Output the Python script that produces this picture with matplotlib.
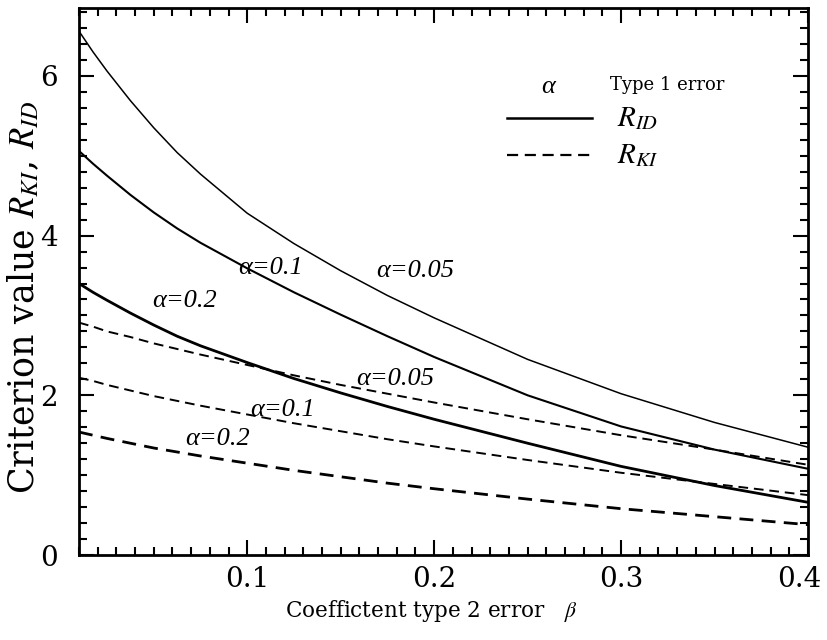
import matplotlib
matplotlib.use("Agg")
import matplotlib.pyplot as plt
from matplotlib.transforms import ScaledTranslation

plt.rcParams['mathtext.fontset'] = 'stix'
plt.rcParams['font.family'] = ['DejaVu Serif']

# beta values (Coefficient type 2 error)
beta = [0.01, 0.0175, 0.025, 0.0375, 0.05, 0.0625, 0.075, 0.1, 0.125, 0.15, 0.175,
        0.2, 0.25, 0.3, 0.35, 0.4]

# R_ID curves (solid)
rid_005 = [6.56, 6.30, 6.06, 5.69, 5.35, 5.04, 4.77, 4.28, 3.90, 3.56, 3.25,
           2.97, 2.45, 2.02, 1.66, 1.35]
rid_01 = [5.06, 4.90, 4.75, 4.51, 4.29, 4.09, 3.91, 3.59, 3.29, 3.01, 2.74,
          2.48, 2.00, 1.61, 1.32, 1.08]
rid_02 = [3.40, 3.29, 3.19, 3.03, 2.88, 2.74, 2.62, 2.41, 2.21, 2.03, 1.86,
          1.70, 1.40, 1.11, 0.87, 0.66]

# R_KI curves (dashed)
rki_005 = [2.91, 2.86, 2.80, 2.73, 2.65, 2.58, 2.51, 2.38, 2.25, 2.13, 2.02,
           1.91, 1.70, 1.50, 1.32, 1.13]
rki_01 = [2.22, 2.18, 2.13, 2.06, 1.99, 1.93, 1.87, 1.76, 1.65, 1.55, 1.45,
          1.36, 1.19, 1.03, 0.89, 0.75]
rki_02 = [1.54, 1.50, 1.46, 1.40, 1.34, 1.29, 1.24, 1.15, 1.06, 0.98, 0.90,
          0.83, 0.70, 0.58, 0.48, 0.38]

fig = plt.figure(figsize=(8.28, 6.40), dpi=100)
ax = fig.add_axes([0.0954, 0.1328, 0.8804, 0.8547])

dash = (0, (5, 3))
ax.plot(beta, rid_005, color='black', lw=1.1)
ax.plot(beta, rid_01, color='black', lw=1.5)
ax.plot(beta, rid_02, color='black', lw=2.0)
ax.plot(beta, rki_005, color='black', lw=1.4, linestyle=dash)
ax.plot(beta, rki_01, color='black', lw=1.4, linestyle=dash)
ax.plot(beta, rki_02, color='black', lw=2.0, linestyle=dash)

# curve labels
lab = dict(fontsize=19, fontstyle='italic', family='Liberation Serif', ha='center', va='center')
ax.text(0.19, 3.56, 'α=0.05', **lab)
ax.text(0.1127, 3.60, 'α=0.1', **lab)
ax.text(0.0667, 3.18, 'α=0.2', **lab)
ax.text(0.179, 2.20, 'α=0.05', **lab)
ax.text(0.119, 1.82, 'α=0.1', **lab)
ax.text(0.084, 1.45, 'α=0.2', **lab)

# legend drawn by hand
ax.text(0.643, 0.856, 'α', transform=ax.transAxes, fontsize=19, fontstyle='italic',
        family='Liberation Serif', ha='center', va='center')
ax.text(0.728, 0.859, 'Type 1 error', transform=ax.transAxes, fontsize=13,
        ha='left', va='center')
ax.plot([0.587, 0.704], [0.799, 0.799], transform=ax.transAxes, color='black', lw=1.8)
ax.plot([0.587, 0.704], [0.731, 0.731], transform=ax.transAxes, color='black', lw=1.6,
        linestyle=dash)
ax.text(0.738, 0.799, r'$R_{ID}$', transform=ax.transAxes, fontsize=21, ha='left', va='center')
ax.text(0.738, 0.731, r'$R_{KI}$', transform=ax.transAxes, fontsize=21, ha='left', va='center')

ax.set_xlim(0.01, 0.4)
ax.set_ylim(0, 6.85)
ax.set_xticks([0.1, 0.2, 0.3, 0.4])
ax.set_xticklabels(['0.1', '0.2', '0.3', '0.4'])
ax.set_xticks([0.01 * i for i in range(1, 41)], minor=True)
ax.set_yticks([0, 2, 4, 6])
ax.set_yticks([0.2 * i for i in range(0, 35)], minor=True)

ax.tick_params(which='both', direction='in', top=True, right=True, width=1.5)
ax.tick_params(which='major', length=11, labelsize=20)
ax.tick_params(axis='x', which='major', pad=8)
ax.tick_params(axis='y', which='major', pad=15)
ax.tick_params(which='minor', length=6)
for s in ax.spines.values():
    s.set_linewidth(2)

# nudge the last x label so it stays inside the picture
last = ax.get_xticklabels()[-1]
last.set_transform(last.get_transform() + ScaledTranslation(-6 / 72, 0, fig.dpi_scale_trans))

ax.set_xlabel(r'Coeffictent type 2 error   $\beta$', fontsize=15.5)
ax.xaxis.set_label_coords(0.483, -0.078)
ax.set_ylabel(r'Criterion value $R_{KI}$, $R_{ID}$', fontsize=25)
ax.yaxis.set_label_coords(-0.052, 0.472)

fig.savefig('out.png', dpi=100)
